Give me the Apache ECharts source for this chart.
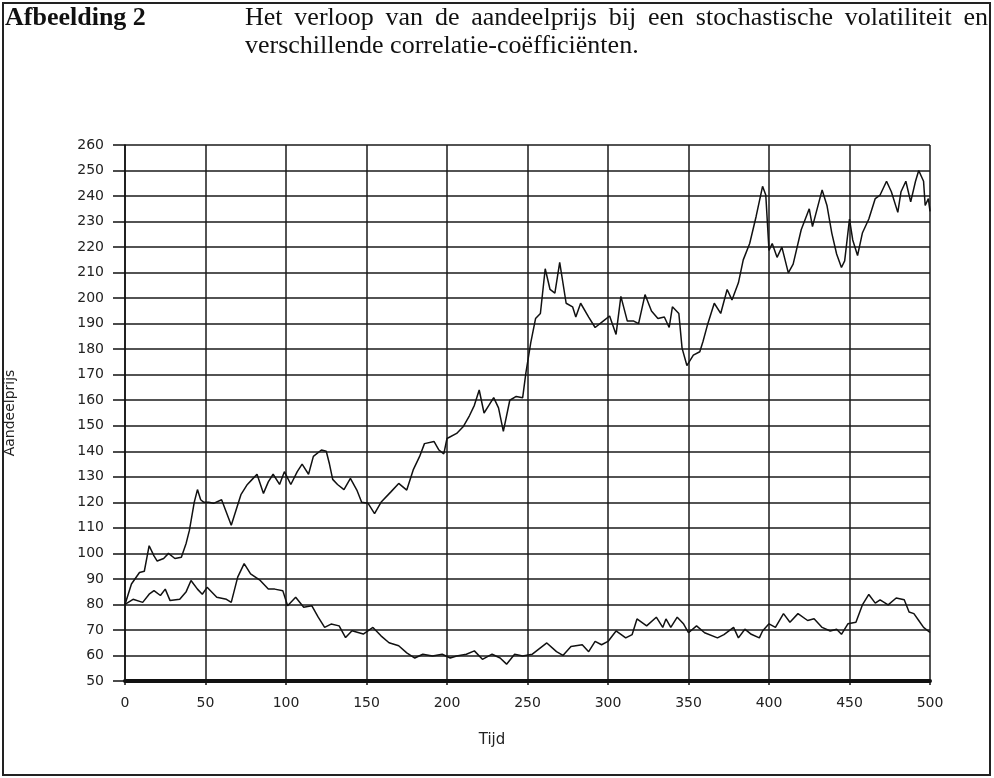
<!DOCTYPE html>
<html>
<head>
    <meta charset="utf-8">
    <script type="text/javascript" src="https://cdn.jsdelivr.net/npm/echarts@6/dist/echarts.min.js"></script>
    <style>
        body { margin: 0; background: #fff; }
    </style>
</head>
<body>
    <div id="main" style="width:994px; height:778px"></div>
    <script type="text/javascript">
        // time and share price, two paths
        var upperT = [0, 4, 9, 12, 15, 18, 20, 24, 27, 31, 35, 38, 40, 43, 45, 47, 49, 52, 55, 60,
            63, 66, 69, 72, 76, 79, 82, 86, 89, 92, 96, 99, 103, 107, 110, 114, 117, 122, 125, 127,
            129, 132, 136, 140, 144, 147, 151, 155, 159, 165, 170, 175, 179, 183, 186, 192, 195, 198, 200, 206,
            210, 214, 217, 220, 223, 226, 229, 232, 235, 239, 243, 247, 249, 252, 255, 258, 261, 264, 267, 270,
            274, 278, 280, 283, 288, 292, 297, 301, 305, 308, 312, 316, 319, 323, 327, 331, 335, 338, 340, 344,
            346, 349, 353, 357, 359, 362, 366, 370, 374, 377, 381, 384, 388, 392, 396, 398, 400, 402, 405, 408,
            412, 415, 420, 425, 427, 433, 436, 439, 442, 445, 447, 450, 452, 455, 458, 462, 466, 469, 473, 476,
            480, 482, 485, 488, 491, 493, 496, 497, 499, 500];
        var upperV = [80, 88, 92.5, 93, 103, 99, 97, 98, 100, 98, 98.5, 104, 109, 120, 125, 121, 120, 120, 119.6, 121,
            116, 111, 117, 123, 127, 129, 131, 123.5, 128, 131, 127, 132, 127, 132, 135, 131, 138, 140.5, 140, 135,
            129, 127, 125, 129.4, 124.8, 120, 119.6, 115.6, 120, 124, 127.4, 124.8, 132.7, 138, 143, 143.8, 140.5, 139, 145, 147,
            149.6, 154, 158, 164, 155, 158, 161, 157, 147.8, 160, 161.5, 161, 170.7, 182.5, 192, 194, 211.5, 203.4, 202, 214,
            198, 196.6, 192.6, 198, 192.6, 188.5, 191, 193, 185.8, 200.7, 191, 191, 190, 201.4, 195, 192, 192.6, 188.5, 196.6, 194,
            180.4, 173.6, 177.7, 179, 183, 190, 198, 194, 203.4, 199.3, 206, 215, 221.4, 232, 243.8, 240.4, 218.7, 221.4, 216, 220,
            209.9, 213.3, 226.8, 235, 228, 242.4, 236.3, 225.5, 217.3, 212, 214.6, 231, 222.8, 216.7, 225.5, 231, 239, 240.4, 245.8, 241.7,
            233.6, 241.7, 245.8, 237.7, 245.8, 250, 245.8, 236.3, 239, 234];

        var lowerT = [0, 5, 11, 15, 18, 22, 25, 28, 34, 38, 41, 45, 48, 51, 57, 63, 66, 70, 74, 78,
            84, 89, 93, 98, 101, 106, 111, 116, 120, 124, 128, 133, 137, 141, 148, 154, 159, 164, 170, 175,
            180, 185, 191, 197, 202, 206, 212, 217, 222, 228, 233, 237, 242, 247, 253, 257, 262, 268, 272, 277,
            284, 288, 292, 296, 300, 305, 311, 315, 318, 324, 330, 334, 336, 339, 343, 347, 350, 355, 360, 368,
            372, 378, 381, 385, 389, 394, 396, 400, 404, 409, 413, 418, 424, 428, 433, 438, 442, 445, 449, 454,
            458, 462, 466, 469, 474, 479, 484, 487, 490, 493, 496, 500];
        var lowerV = [80, 82, 80.8, 84, 85.4, 83.5, 86, 81.5, 82, 85, 89.4, 86, 84, 86.7, 82.8, 82, 80.8, 90.7, 96, 92,
            89.4, 86, 86, 85.4, 79.5, 82.8, 78.9, 79.5, 75, 71, 72.3, 71.6, 67, 69.7, 68.4, 71, 67.7, 65, 63.8, 61,
            59, 60.5, 59.8, 60.5, 59, 59.8, 60.5, 61.8, 58.5, 60.5, 59, 56.6, 60.5, 59.8, 60.5, 62.5, 64.9, 61.5, 60, 63.5,
            64.2, 61.5, 65.5, 64.2, 65.5, 69.6, 66.9, 68.2, 74.3, 71.6, 75, 71, 74.3, 71, 75, 72.3, 68.9, 71.6, 68.9, 66.9,
            68.2, 71, 66.9, 70.3, 68.3, 66.9, 69.6, 72.4, 71, 76.4, 73, 76.4, 73.7, 74.4, 71, 69.6, 70.3, 68.3, 72.4, 73,
            79.8, 83.9, 80.5, 81.8, 79.8, 82.5, 81.8, 77, 76.4, 73.7, 71, 69];

        var titleLabel = 'Afbeelding 2';
        var titleLine1 = 'Het verloop van de aandeelprijs bij een stochastische volatiliteit en';
        var titleLine2 = 'verschillende correlatie-coëfficiënten.';

        function pairs(ts, vs) {
            var out = [];
            for (var i = 0; i < ts.length; i++) out.push([ts[i], vs[i]]);
            return out;
        }

        // first caption line is justified between x=245 and x=988
        var serif = '"Liberation Serif", "Times New Roman", serif';
        var capSize = 26;
        var ctx = document.createElement('canvas').getContext('2d');
        ctx.font = capSize + 'px ' + serif;
        var words = titleLine1.split(' ');
        var sumW = 0;
        var wordW = [];
        for (var i = 0; i < words.length; i++) {
            wordW.push(ctx.measureText(words[i]).width);
            sumW += wordW[i];
        }
        var gap = (988 - 245 - sumW) / (words.length - 1);
        var graphics = [
            {type: 'rect', shape: {x: 3, y: 3, width: 987, height: 772},
                style: {fill: 'none', stroke: '#222', lineWidth: 2}},
            {type: 'text', x: 5, y: 18, style: {text: titleLabel, fontSize: capSize, fontWeight: 'bold',
                fontFamily: serif, fill: '#111', verticalAlign: 'middle'}},
            {type: 'text', x: 245, y: 46, style: {text: titleLine2, fontSize: capSize,
                fontFamily: serif, fill: '#111', verticalAlign: 'middle'}},
            {type: 'text', x: 492, y: 740, style: {text: 'Tijd', fontSize: 15,
                fontFamily: 'DejaVu Sans', fill: '#222', align: 'center', verticalAlign: 'middle'}}
        ];
        var cx = 245;
        for (var i = 0; i < words.length; i++) {
            graphics.push({type: 'text', x: cx, y: 18, style: {text: words[i], fontSize: capSize,
                fontFamily: serif, fill: '#111', verticalAlign: 'middle'}});
            cx += wordW[i] + gap;
        }

        var myChart = echarts.init(document.getElementById('main'));
        var option = {
            animation: false,
            backgroundColor: '#fff',
            grid: {left: 125, right: 64, top: 145, bottom: 97, containLabel: false, outerBoundsMode: 'none'},
            xAxis: {
                type: 'value', min: 0, max: 500, interval: 50,
                axisLine: {lineStyle: {color: '#111', width: 4}},
                axisTick: {length: 4, lineStyle: {color: '#111', width: 1.5}},
                axisLabel: {margin: 15, color: '#222', fontSize: 14, fontFamily: 'DejaVu Sans'},
                splitLine: {show: true, lineStyle: {color: '#1a1a1a', width: 1.5}}
            },
            yAxis: {
                type: 'value', min: 50, max: 260, interval: 10,
                name: 'Aandeelprijs', nameLocation: 'middle', nameGap: 108,
                nameTextStyle: {fontSize: 14, fontFamily: 'DejaVu Sans', color: '#222'},
                axisLine: {show: true, lineStyle: {color: '#111', width: 1.5}},
                axisTick: {show: true, length: 12, lineStyle: {color: '#111', width: 1.5}},
                axisLabel: {margin: 21, color: '#222', fontSize: 14, fontFamily: 'DejaVu Sans'},
                splitLine: {show: true, lineStyle: {color: '#1a1a1a', width: 1.5}}
            },
            graphic: graphics,
            series: [
                {type: 'line', data: pairs(upperT, upperV), showSymbol: false,
                    lineStyle: {color: '#111', width: 1.5}},
                {type: 'line', data: pairs(lowerT, lowerV), showSymbol: false,
                    lineStyle: {color: '#111', width: 1.5}}
            ]
        };
        myChart.setOption(option);
    </script>
</body>
</html>
